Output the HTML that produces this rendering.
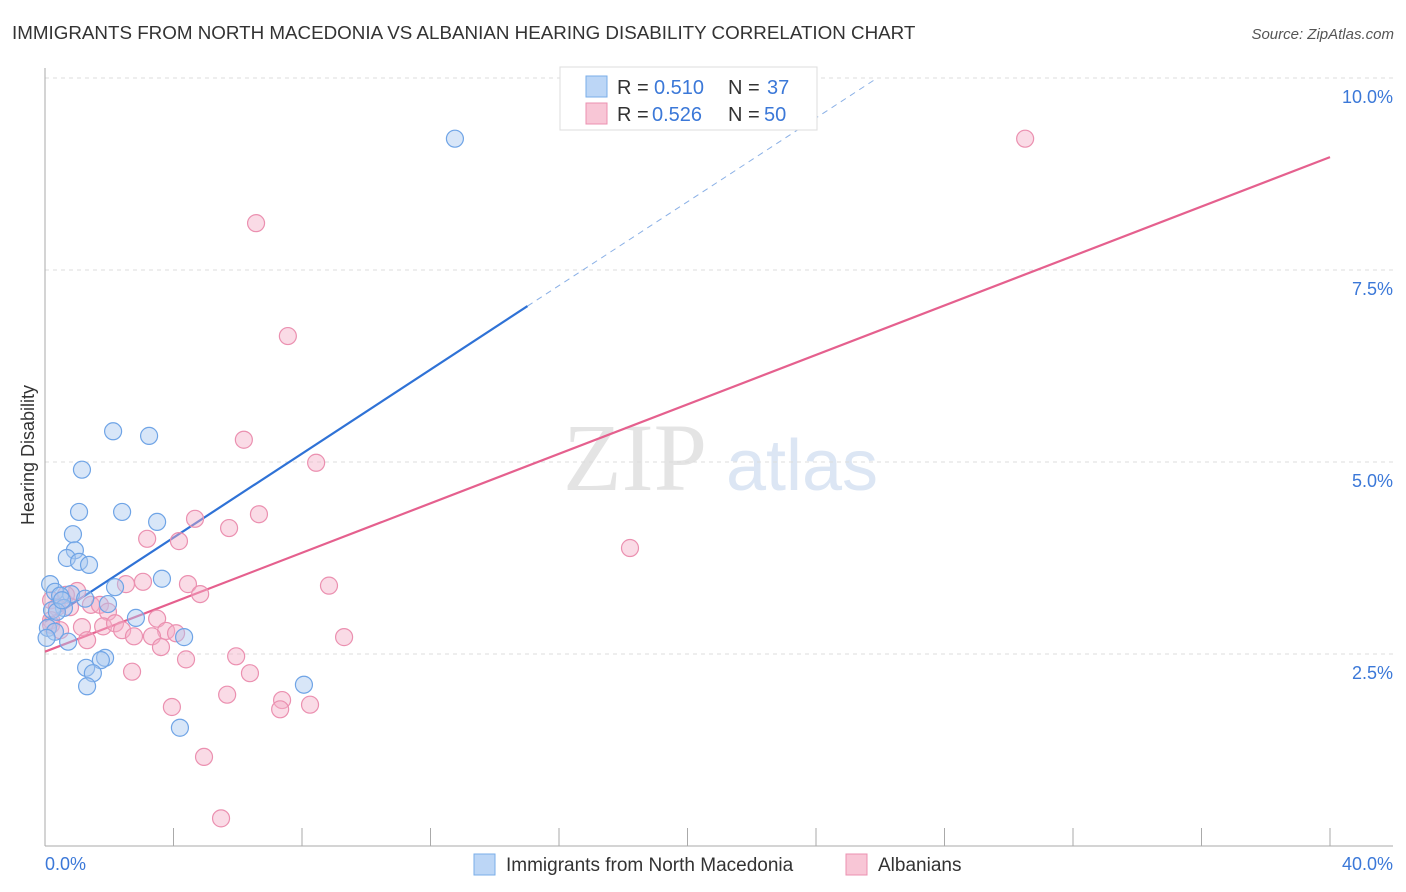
<!DOCTYPE html>
<html><head><meta charset="utf-8"><style>
body{margin:0;background:#fff;font-family:"Liberation Sans",sans-serif;}
svg{display:block}
</style></head><body>
<svg id="chart" width="1406" height="892" xmlns="http://www.w3.org/2000/svg">
<text x="12" y="39" font-size="18.8" fill="#333">IMMIGRANTS FROM NORTH MACEDONIA VS ALBANIAN HEARING DISABILITY CORRELATION CHART</text>
<text x="1394" y="39" font-size="15" fill="#555" font-style="italic" text-anchor="end">Source: ZipAtlas.com</text>
<g>
<text x="635" y="490" font-size="96" font-family="Liberation Serif,serif" fill="#e4e4e4" text-anchor="middle">ZIP</text>
<text x="802" y="490" font-size="72" fill="#dce6f4" text-anchor="middle">atlas</text>
</g>
<g id="grid"></g>
<g id="axes"></g>
<g id="lines"></g>
<g id="pts"></g>
<text transform="translate(34,455) rotate(-90)" font-size="18" fill="#333" text-anchor="middle">Hearing Disability</text>
<g>
<rect x="560" y="67" width="257" height="63" fill="#fff" stroke="#ddd"/>
<rect x="586" y="76" width="21" height="21" fill="#bcd6f6" stroke="#7aaee8"/>
<rect x="586" y="103" width="21" height="21" fill="#f8c6d6" stroke="#eb90b0"/>
<text y="94" font-size="20" fill="#333"><tspan x="617">R =</tspan><tspan x="654" fill="#3b78d8">0.510</tspan><tspan x="728">N =</tspan><tspan x="767" fill="#3b78d8">37</tspan></text>
<text y="121" font-size="20" fill="#333"><tspan x="617">R =</tspan><tspan x="652" fill="#3b78d8">0.526</tspan><tspan x="728">N =</tspan><tspan x="764" fill="#3b78d8">50</tspan></text>
</g>
<g>
<rect x="474" y="854" width="21" height="21" fill="#bcd6f6" stroke="#7aaee8"/>
<text x="506" y="871" font-size="19" fill="#333">Immigrants from North Macedonia</text>
<rect x="846" y="854" width="21" height="21" fill="#f8c6d6" stroke="#eb90b0"/>
<text x="878" y="871" font-size="19" fill="#333">Albanians</text>
</g>
</svg>
<script>
const yTicks=[2.5,5.0,7.5,10.0];
const xTickCount=10;
const blueX=[12.76,2.12,3.24,1.15,1.06,2.40,3.49,0.87,0.93,0.68,1.06,1.37,3.64,0.16,2.18,0.31,0.81,0.47,1.25,1.96,0.59,0.22,0.37,2.83,0.09,0.31,4.33,0.72,1.28,1.87,1.74,1.49,1.31,8.06,4.20,0.05,0.53];
const blueY=[9.21,5.40,5.34,4.90,4.35,4.35,4.22,4.06,3.85,3.75,3.70,3.66,3.48,3.41,3.37,3.31,3.28,3.26,3.22,3.15,3.10,3.07,3.05,2.97,2.84,2.79,2.72,2.66,2.32,2.45,2.42,2.25,2.08,2.10,1.54,2.71,3.20];
const pinkX=[30.51,6.57,7.56,6.19,8.44,6.66,4.67,5.73,3.18,4.17,18.21,8.84,2.52,3.05,4.45,4.83,1.00,0.65,0.19,1.43,1.71,0.37,0.78,1.96,3.49,0.19,1.15,1.81,2.18,2.40,3.77,4.08,2.77,3.33,9.31,1.31,3.61,0.19,5.95,4.39,2.71,6.38,5.67,7.38,3.95,7.32,8.25,4.95,5.48,0.47];
const pinkY=[9.21,8.11,6.64,5.29,4.99,4.32,4.26,4.14,4.00,3.97,3.88,3.39,3.41,3.44,3.41,3.28,3.32,3.27,3.20,3.14,3.14,3.11,3.11,3.05,2.96,2.94,2.85,2.86,2.90,2.81,2.80,2.77,2.73,2.73,2.72,2.68,2.59,2.88,2.47,2.43,2.27,2.25,1.97,1.90,1.81,1.78,1.84,1.16,0.36,2.81];
const blueTrend=[2.92,7.03,9.99]; const blueTrendX=[0,15.02,25.87];
const pinkTrend=[2.53,8.97]; const pinkTrendX=[0,40];
const X=v=>45+v/40*1285, Y=v=>846-v/2.5*192;
const NS='http://www.w3.org/2000/svg';
function mk(tag,attrs,parent){const e=document.createElementNS(NS,tag);for(const k in attrs)e.setAttribute(k,attrs[k]);document.getElementById(parent).appendChild(e);return e;}
yTicks.forEach(t=>{
 const l=mk('line',{x1:45,x2:1393,y1:Y(t),y2:Y(t),stroke:'#ddd','stroke-dasharray':'4,4'},'grid');
 
 
 const tx=mk('text',{x:1393,y:Y(t)+25,'font-size':18,fill:'#3b78d8','text-anchor':'end'},'grid');
 tx.textContent=t.toFixed(1)+'%';
 
 
});
mk('line',{x1:45,x2:45,y1:68,y2:846,stroke:'#aaa'},'axes');
mk('line',{x1:45,x2:1393,y1:846,y2:846,stroke:'#aaa'},'axes');
for(let i=0;i<=xTickCount;i++){const x=X(i*4);const t=mk('line',{x1:x,x2:x,y1:828,y2:846,stroke:'#aaa'},'axes');}
let a=mk('text',{x:45,y:870,'font-size':18,fill:'#3b78d8'},'axes');a.textContent='0.0%';


a=mk('text',{x:1393,y:870,'font-size':18,fill:'#3b78d8','text-anchor':'end'},'axes');a.textContent='40.0%';


function pts(xs,ys,fill,stroke,name){xs.forEach((v,i)=>{const c=mk('circle',{cx:X(v),cy:Y(ys[i]),r:8.5,fill:fill,'fill-opacity':0.45,stroke:stroke,'stroke-width':1.2},'pts');
 
 });}
pts(pinkX,pinkY,'#f4b0c8','#eb90b0','albanian-point');
pts(blueX,blueY,'#a8c8f0','#6fa4e6','macedonia-point');
let l=mk('line',{x1:X(blueTrendX[0]),y1:Y(blueTrend[0]),x2:X(blueTrendX[1]),y2:Y(blueTrend[1]),stroke:'#2f72d6','stroke-width':2.2},'lines');


l=mk('line',{x1:X(blueTrendX[1]),y1:Y(blueTrend[1]),x2:X(blueTrendX[2]),y2:Y(blueTrend[2]),stroke:'#8ab0e6','stroke-width':1,'stroke-dasharray':'6,5'},'lines');


l=mk('line',{x1:X(pinkTrendX[0]),y1:Y(pinkTrend[0]),x2:X(pinkTrendX[1]),y2:Y(pinkTrend[1]),stroke:'#e5608e','stroke-width':2.2},'lines');


</script>
</body></html>
